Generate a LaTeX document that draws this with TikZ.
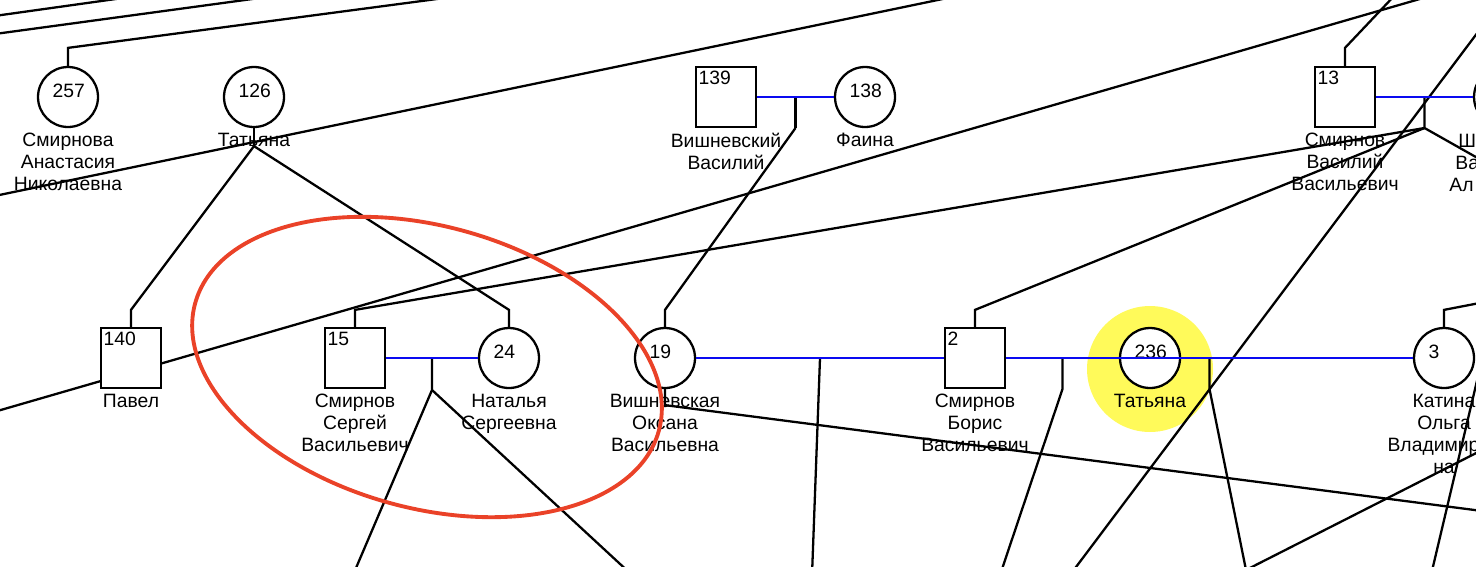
\documentclass[tikz,border=0pt]{standalone}
\usepackage{fontspec}
\setmainfont{Liberation Sans}
\usetikzlibrary{positioning,calc}
\definecolor{hilite}{RGB}{255,250,90}
\definecolor{ringred}{RGB}{234,66,40}
\definecolor{wedblue}{RGB}{10,10,240}

\tikzset{
    person/.style={draw, line width=1.3pt, fill=white, minimum size=1.2cm, inner sep=0pt},
    male/.style={person, rectangle},
    female/.style={person, circle},
    num/.style={font=\fontsize{11}{12.5}\selectfont, inner sep=0pt},
    snum/.style={num, anchor=north west, xshift=0.07cm, yshift=-0.09cm},
    cnum/.style={num, anchor=west, xshift=0.31cm, yshift=0.13cm},
    who/.style={font=\fontsize{11}{12.5}\selectfont, align=center, inner sep=0pt},
    kin/.style={line width=1.3pt},
    wed/.style={line width=1.3pt, wedblue},
}

\begin{document}
\begin{tikzpicture}[x=0.02cm, y=-0.02cm]
    \useasboundingbox (0,0) rectangle (1476,566);
    \clip (0,0) rectangle (1476,566);

    % --- Highlight ---
    \fill[hilite] (1150,369) circle[radius=1.26cm];

    % --- Lines coming from outside the view ---
    \coordinate (a1) at (-20,18);    \coordinate (b1) at (130,-3);
    \coordinate (a2) at (-20,36);    \coordinate (b2) at (267,-3);
    \coordinate (a3) at (-20,199);   \coordinate (b3) at (957,-4);
    \coordinate (a4) at (-20,416);   \coordinate (b4) at (1437,-6);
    \coordinate (a5) at (1070,575);  \coordinate (b5) at (1490,16);
    \coordinate (a6) at (1240,573);  \coordinate (b6) at (1490,446);
    \coordinate (a7) at (1431,575);  \coordinate (b7) at (1480,368);
    \draw[kin] (a1) -- (b1);
    \draw[kin] (a2) -- (b2);
    \draw[kin] (a3) -- (b3);
    \draw[kin] (a4) -- (b4);
    \draw[kin] (a5) -- (b5);
    \draw[kin] (a6) -- (b6);
    \draw[kin] (a7) -- (b7);

    % --- Upper generation ---
    \node[female, label={[cnum]west:257}] (p257) at (68,97) {};
    \node[who, below=0.09cm of p257] (n257) {Смирнова\\Анастасия\\Николаевна};
    \node[female, label={[cnum]west:126}] (p126) at (254,97) {};
    \node[who, below=0.09cm of p126] (n126) {Татьяна};
    \node[male, label={[snum]north west:139}] (p139) at (726,97) {};
    \node[who, below=0.09cm of p139] (n139) {Вишневский\\Василий};
    \node[female, label={[cnum]west:138}] (p138) at (865,97) {};
    \node[who, below=0.09cm of p138] (n138) {Фаина};
    \node[male, label={[snum]north west:13}] (p13) at (1345,97) {};
    \node[who, below=0.09cm of p13] (n13) {Смирнов\\Василий\\Васильевич};
    \node[female] (pR) at (1504,97) {};
    \node[who, anchor=base west] (nRa) at (1458,147) {Ш};
    \node[who, anchor=base west] (nRb) at (1455,169) {Ва};
    \node[who, anchor=base west] (nRc) at (1449,191) {Ал};

    % --- Lower generation ---
    \node[male, label={[snum]north west:140}] (p140) at (131,358) {};
    \node[who, below=0.09cm of p140] (n140) {Павел};
    \node[male, label={[snum]north west:15}] (p15) at (355,358) {};
    \node[who, below=0.09cm of p15] (n15) {Смирнов\\Сергей\\Васильевич};
    \node[female, label={[cnum]west:24}] (p24) at (509,358) {};
    \node[who, below=0.09cm of p24] (n24) {Наталья\\Сергеевна};
    \node[female, label={[cnum]west:19}] (p19) at (665,358) {};
    \node[who, below=0.09cm of p19] (n19) {Вишневская\\Оксана\\Васильевна};
    \node[male, label={[snum]north west:2}] (p2) at (975,358) {};
    \node[who, below=0.09cm of p2] (n2) {Смирнов\\Борис\\Васильевич};
    \node[female, label={[cnum]west:236}] (p236) at (1150,358) {};
    \node[who, below=0.09cm of p236] (n236) {Татьяна};
    \node[female, label={[cnum]west:3}] (p3) at (1444,358) {};
    \node[who, below=0.09cm of p3] (n3) {Катина\\Ольга\\Владимиров\\на};

    % --- Couples and their drop points ---
    \coordinate (j139) at ($(p139.east)!.5!(p138.west)$);
    \coordinate (j13) at ($(p13.east)!.5!(pR.west)$);
    \coordinate (j15) at ($(p15.east)!.5!(p24.west)$);
    \coordinate (j19) at ($(p19.east)!.5!(p2.west)$);
    \coordinate (j2a) at ($(p2.east)!.5!(p236.west)$);
    \coordinate (j2b) at ($(p2.east)!.5!(p3.west)$);
    \coordinate (k126) at ($(p126.south)+(0,18)$);
    \coordinate (k139) at ($(j139)+(0,31)$);
    \coordinate (k13) at ($(j13)+(0,31)$);
    \coordinate (k15) at ($(j15)+(0,32)$);
    \coordinate (k2a) at ($(j2a)+(0,31)$);
    \coordinate (k2b) at ($(j2b)+(0,31)$);

    % --- Children ---
    \coordinate (c257) at (452,-3);
    \coordinate (c13) at (1395,-5);
    \coordinate (c3) at (1490,301);
    \coordinate (c13r) at (1490,165);
    \coordinate (c15a) at (353,575);
    \coordinate (c15b) at (632,575);
    \coordinate (c19) at (812,575);
    \coordinate (c2a) at (1000,575);
    \coordinate (c2b) at (1247,575);
    \coordinate (c19s) at (1490,512);
    \draw[kin] (p257.north) -- ++(0,-18) -- (c257);
    \draw[kin] (p13.north) -- ++(0,-18) -- (c13);
    \draw[kin] (p3.north) -- ++(0,-17) -- (c3);
    \draw[kin] (p126.south) -- (k126);
    \draw[kin] (p140.north) -- ++(0,-17) -- (k126);
    \draw[kin] (p24.north) -- ++(0,-17) -- (k126);
    \draw[kin] (j139) -- (k139);
    \draw[kin] (p19.north) -- ++(0,-17) -- (k139);
    \draw[kin] (j13) -- (k13) -- (c13r);
    \draw[kin] (p15.north) -- ++(0,-17) -- (k13);
    \draw[kin] (p2.north) -- ++(0,-17) -- (k13);
    \draw[kin] (j15) -- (k15) -- (c15a);
    \draw[kin] (k15) -- (c15b);
    \draw[kin] (j19) -- (c19);
    \draw[kin] (j2a) -- (k2a) -- (c2a);
    \draw[kin] (j2b) -- (k2b) -- (c2b);
    \draw[kin] (p19.south) -- ++(0,16) -- (c19s);

    % --- Marriages ---
    \draw[wed] (p139.east) -- (p138.west);
    \draw[wed] (p13.east) -- (pR.west);
    \draw[wed] (p15.east) -- (p24.west);
    \draw[wed] (p19.east) -- (p2.west);
    \draw[wed] (p2.east) -- (p236.west);
    \draw[wed] (p2.east) -- (p3.west);

    % Mark the couple 15 + 24
    \draw[ringred, line width=2.2pt, rotate around={-15.4:(427,367)}] (427,367) ellipse [x radius=4.81cm, y radius=2.82cm];
\end{tikzpicture}
\end{document}
